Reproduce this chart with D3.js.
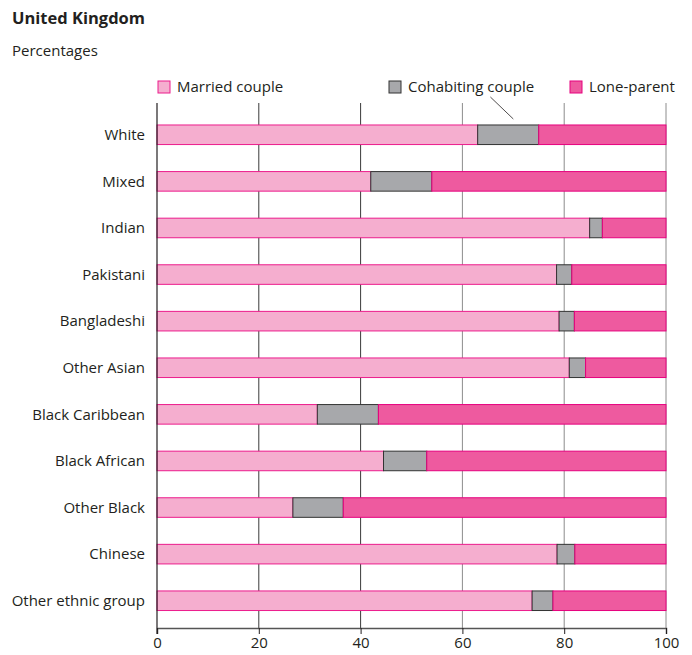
<!DOCTYPE html>
<html>
<head>
<meta charset="utf-8">
<script src="https://cdn.jsdelivr.net/npm/d3@7"></script>
<style>
  body { margin: 0; background: #fff; }
  svg text { font-family: "Open Sans", "Noto Sans", sans-serif; fill: #231f20; }
</style>
</head>
<body>
<div id="chart"></div>
<script>
const groups = ["White", "Mixed", "Indian", "Pakistani", "Bangladeshi", "Other Asian",
  "Black Caribbean", "Black African", "Other Black", "Chinese", "Other ethnic group"];
const married = [63, 42, 85, 78.5, 79, 81, 31.5, 44.5, 26.7, 78.6, 73.7];
const cohabiting = [12, 12, 2.5, 3, 3, 3.2, 12, 8.5, 9.9, 3.5, 4.1];
const loneParent = [25, 46, 12.5, 18.5, 18, 15.8, 56.5, 47, 63.4, 17.9, 22.2];
const seriesNames = ["Married couple", "Cohabiting couple", "Lone-parent"];
const xTicks = [0, 20, 40, 60, 80, 100];

const width = 692, height = 655;
const margin = { top: 103, right: 26, bottom: 27, left: 157 };

const fills = ["#f5aecf", "#a7a8ab", "#ee5a9f"];
const strokes = ["#ec1c8c", "#333333", "#e6007e"];

const rows = groups.map((g, i) => ({
  group: g, married: married[i], cohabiting: cohabiting[i], lone: loneParent[i]
}));
const keys = ["married", "cohabiting", "lone"];
const stacked = d3.stack().keys(keys)(rows);

const svg = d3.select("#chart").append("svg")
  .attr("width", width)
  .attr("height", height);

const x = d3.scaleLinear().domain([0, 100]).range([margin.left, width - margin.right]);
const y = d3.scaleBand().domain(groups)
  .range([111, 624.5])
  .paddingInner(0.58).paddingOuter(0.3);

// title
svg.append("text").attr("x", 12).attr("y", 24)
  .style("font-size", "16.5px").style("font-weight", "bold").text("United Kingdom");
svg.append("text").attr("x", 12).attr("y", 56)
  .style("font-size", "15px").text("Percentages");

// gridlines
svg.append("g").selectAll("line")
  .data(xTicks.slice(1))
  .join("line")
  .attr("x1", d => x(d)).attr("x2", d => x(d))
  .attr("y1", margin.top).attr("y2", height - margin.bottom)
  .attr("stroke", d => d <= 40 ? "#3a3a3a" : "#8c8c8c")
  .attr("stroke-width", 1);

// bars
svg.append("g").selectAll("g")
  .data(stacked)
  .join("g")
  .attr("fill", (d, i) => fills[i])
  .attr("stroke", (d, i) => strokes[i])
  .attr("stroke-width", 1)
  .selectAll("rect")
  .data(d => d)
  .join("rect")
  .attr("x", d => x(d[0]))
  .attr("width", d => x(d[1]) - x(d[0]))
  .attr("y", d => y(d.data.group))
  .attr("height", y.bandwidth());

// y axis line
svg.append("line")
  .attr("x1", x(0)).attr("x2", x(0))
  .attr("y1", margin.top).attr("y2", height - margin.bottom + 6)
  .attr("stroke", "#231f20").attr("stroke-width", 1.2);

// x axis
const xAxis = svg.append("g")
  .attr("transform", `translate(0,${height - margin.bottom})`)
  .call(d3.axisBottom(x).tickValues(xTicks).tickSize(6).tickPadding(3));
xAxis.select(".domain").attr("stroke", "#555").attr("stroke-width", 1.5);
xAxis.selectAll(".tick line").attr("stroke", "#231f20");
xAxis.selectAll(".tick text")
  .style("font-size", "15px")
  .style("font-family", "'Open Sans', sans-serif")
  .attr("fill", "#231f20");

// y labels
svg.append("g").selectAll("text")
  .data(groups)
  .join("text")
  .attr("x", x(0) - 12)
  .attr("y", d => y(d) + y.bandwidth() / 2)
  .attr("dy", "0.35em")
  .attr("text-anchor", "end")
  .style("font-size", "15px")
  .text(d => d);

// legend
const legendX = [158, 389, 570];
const legend = svg.append("g").selectAll("g")
  .data(seriesNames)
  .join("g")
  .attr("transform", (d, i) => `translate(${legendX[i]},81)`);
legend.append("rect")
  .attr("width", 12).attr("height", 12)
  .attr("fill", (d, i) => fills[i])
  .attr("stroke", (d, i) => strokes[i]);
legend.append("text")
  .attr("x", 19).attr("y", 6).attr("dy", "0.35em")
  .style("font-size", "15px")
  .text(d => d);

// leader line from legend to White cohabiting segment
const white = stacked[1][0];
svg.append("line")
  .attr("x1", x(white[0] + 2.5)).attr("y1", 97)
  .attr("x2", x(white[0] + 7)).attr("y2", y("White") - 6)
  .attr("stroke", "#231f20").attr("stroke-width", 0.8);
</script>
</body>
</html>
